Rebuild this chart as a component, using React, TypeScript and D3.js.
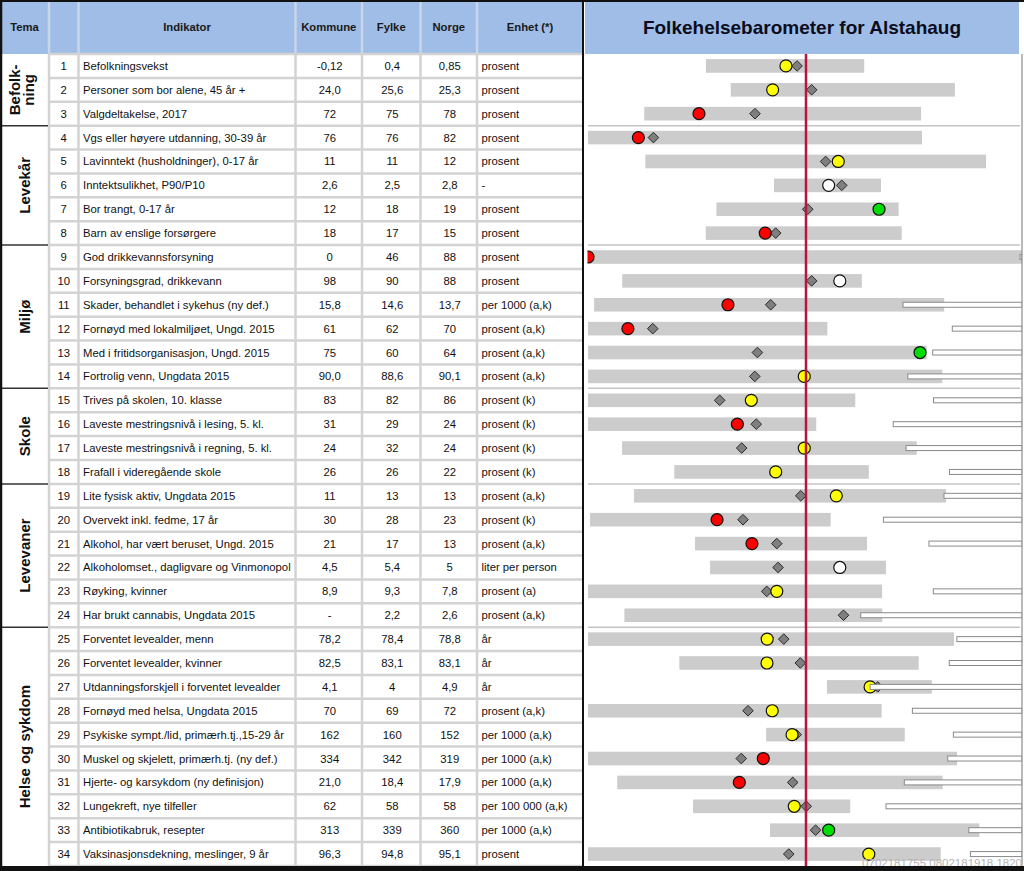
import React from 'react';
import * as d3 from 'd3';

const W = 1024;
const H = 871;
const FONT = "'Liberation Sans', Arial, sans-serif";

// ---------- table data ----------
const groupNames = [['Befolk-', 'ning'], ['Levekår'], ['Miljø'], ['Skole'], ['Levevaner'], ['Helse og sykdom']];
const groupSizes = [3, 5, 6, 4, 6, 10];

const indicators = [
  'Befolkningsvekst',
  'Personer som bor alene, 45 år +',
  'Valgdeltakelse, 2017',
  'Vgs eller høyere utdanning, 30-39 år',
  'Lavinntekt (husholdninger), 0-17 år',
  'Inntektsulikhet, P90/P10',
  'Bor trangt, 0-17 år',
  'Barn av enslige forsørgere',
  'God drikkevannsforsyning',
  'Forsyningsgrad, drikkevann',
  'Skader, behandlet i sykehus (ny def.)',
  'Fornøyd med lokalmiljøet, Ungd. 2015',
  'Med i fritidsorganisasjon, Ungd. 2015',
  'Fortrolig venn, Ungdata 2015',
  'Trives på skolen, 10. klasse',
  'Laveste mestringsnivå i lesing, 5. kl.',
  'Laveste mestringsnivå i regning, 5. kl.',
  'Frafall i videregående skole',
  'Lite fysisk aktiv, Ungdata 2015',
  'Overvekt inkl. fedme, 17 år',
  'Alkohol, har vært beruset, Ungd. 2015',
  'Alkoholomset., dagligvare og Vinmonopol',
  'Røyking, kvinner',
  'Har brukt cannabis, Ungdata 2015',
  'Forventet levealder, menn',
  'Forventet levealder, kvinner',
  'Utdanningsforskjell i forventet levealder',
  'Fornøyd med helsa, Ungdata 2015',
  'Psykiske sympt./lid, primærh.tj.,15-29 år',
  'Muskel og skjelett, primærh.tj. (ny def.)',
  'Hjerte- og karsykdom (ny definisjon)',
  'Lungekreft, nye tilfeller',
  'Antibiotikabruk, resepter',
  'Vaksinasjonsdekning, meslinger, 9 år',
];
const kommune = ['-0,12', '24,0', '72', '76', '11', '2,6', '12', '18', '0', '98', '15,8', '61', '75', '90,0', '83', '31', '24', '26', '11', '30', '21', '4,5', '8,9', '-', '78,2', '82,5', '4,1', '70', '162', '334', '21,0', '62', '313', '96,3'];
const fylke = ['0,4', '25,6', '75', '76', '11', '2,5', '18', '17', '46', '90', '14,6', '62', '60', '88,6', '82', '29', '32', '26', '13', '28', '17', '5,4', '9,3', '2,2', '78,4', '83,1', '4', '69', '160', '342', '18,4', '58', '339', '94,8'];
const norge = ['0,85', '25,3', '78', '82', '12', '2,8', '19', '15', '88', '88', '13,7', '70', '64', '90,1', '86', '24', '24', '22', '13', '23', '13', '5', '7,8', '2,6', '78,8', '83,1', '4,9', '72', '152', '319', '17,9', '58', '360', '95,1'];
const enhet = ['prosent', 'prosent', 'prosent', 'prosent', 'prosent', '-', 'prosent', 'prosent', 'prosent', 'prosent', 'per 1000 (a,k)', 'prosent (a,k)', 'prosent (a,k)', 'prosent (a,k)', 'prosent (k)', 'prosent (k)', 'prosent (k)', 'prosent (k)', 'prosent (a,k)', 'prosent (k)', 'prosent (a,k)', 'liter per person', 'prosent (a)', 'prosent (a,k)', 'år', 'år', 'år', 'prosent (a,k)', 'per 1000 (a,k)', 'per 1000 (a,k)', 'per 1000 (a,k)', 'per 100 000 (a,k)', 'per 1000 (a,k)', 'prosent'];

// ---------- barometer data (standardised units, Norge = 0) ----------
const circleColor = ['y', 'y', 'r', 'r', 'y', 'w', 'g', 'r', 'r', 'w', 'r', 'r', 'g', 'y', 'y', 'r', 'y', 'y', 'y', 'r', 'r', 'w', 'y', '', 'y', 'y', 'y', 'y', 'y', 'r', 'r', 'y', 'g', 'y'];
const barStart = [-45.9, -34.5, -74.2, -100, -73.7, -14.7, -41.1, -46.0, -100, -84.3, -97.2, -100, -100, -100, -100, -100, -84.4, -60.4, -78.9, -99.1, -50.9, -44.0, -100, -83.3, -100, -58.1, 9.6, -100, -18.3, -100, -86.6, -51.8, -16.5, -100];
const barEnd = [26.7, 68.3, 52.8, 53.2, 82.6, 34.4, 42.5, 43.9, 100, 25.6, 63.4, 9.8, 55.4, 62.5, 22.6, 4.7, 50.8, 28.8, 64.2, 11.3, 28.0, 36.7, 34.9, 35.0, 67.9, 51.7, 57.7, 34.7, 45.3, 69.3, 62.7, 20.3, 79.5, 61.8];
const kommunePos = [-9.2, -15.3, -49.1, -76.9, 14.8, 10.4, 33.5, -18.7, -100, 15.5, -35.8, -81.7, 52.3, -0.8, -25.1, -31.5, -0.8, -13.9, 13.9, -40.8, -24.8, 15.5, -13.4, null, -17.8, -17.9, 29.4, -15.5, -6.4, -19.6, -30.6, -5.4, 10.4, 28.8];
const fylkePos = [-4.1, 2.6, -23.4, -70.0, 9.0, 16.4, 0.8, -13.9, null, 2.6, -16.2, -70.3, -22.3, -23.5, -39.6, -22.8, -29.5, -13.9, -2.4, -28.9, -13.4, -12.8, -18.0, 17.2, -10.2, -2.6, 32.9, -26.6, -4.5, -29.7, -6.1, 0.1, 4.4, -7.9];
const targetStart = [null, null, null, null, null, null, null, null, 98.2, null, 44.5, 67.1, 58.1, 46.7, 58.5, 40.0, 45.9, 65.8, 63.3, 35.5, 56.4, null, 58.4, 25.1, 69.2, 65.7, 29.4, 48.8, 67.6, 65.0, 45.1, 36.7, 74.7, 75.4];

const headerLabels = ['Tema', '', 'Indikator', 'Kommune', 'Fylke', 'Norge', 'Enhet (*)'];
const title = 'Folkehelsebarometer for Alstahaug';
const stamp = '0702181755.0802181918.1820';

const colorMap: Record<string, string> = { y: '#ffff00', r: '#ff0000', g: '#00dd00', w: '#ffffff' };

export default function App() {
  const n = indicators.length;
  const headerBottom = 54;
  const bodyBottom = 866;
  const colEdges = [0, 49, 78.5, 295.5, 362, 420.5, 477, 583];
  const chartLeft = 585;
  const chartRight = 1022;

  const y = d3.scaleBand<number>().domain(d3.range(n)).range([headerBottom, bodyBottom]).paddingInner(0);
  const x = d3.scaleLinear().domain([-100, 100]).range([588, 1024]);
  const bw = y.bandwidth();
  const yc = (i: number) => (y(i) as number) + bw / 2;

  // group boundaries
  const groupStarts: number[] = [];
  let acc = 0;
  groupSizes.forEach((s) => { groupStarts.push(acc); acc += s; });

  const gridColor = '#d3d3d3';
  const fs = 11.3;

  const diamond = (cx: number, cy: number, r: number) => `M${cx},${cy - r}L${cx + r},${cy}L${cx},${cy + r}L${cx - r},${cy}Z`;

  return (
    <svg width={W} height={H} style={{ display: 'block', position: 'absolute', left: 0, top: 0 }} fontFamily={FONT}>
      <defs>
        <clipPath id="chartClip">
          <rect x={587.5} y={headerBottom} width={chartRight - 587.5} height={bodyBottom - headerBottom} />
        </clipPath>
      </defs>
      <rect x={0} y={0} width={W} height={H} fill="#ffffff" />

      {/* headers */}
      <rect x={0} y={2} width={colEdges[7]} height={headerBottom - 2} fill="#9fbde6" />
      <rect x={chartLeft} y={2} width={1019 - chartLeft} height={headerBottom - 2} fill="#9fbde6" />
      {colEdges.slice(1, 7).map((cx, i) => (
        <line key={'hv' + i} x1={cx} x2={cx} y1={2} y2={headerBottom} stroke="#c9d6ea" strokeWidth={2.5} />
      ))}
      {headerLabels.map((t, i) => (
        <text key={'h' + i} x={(colEdges[i] + colEdges[i + 1]) / 2} y={31} textAnchor="middle" fontWeight="bold" fontSize={11.3} fill="#1a1a1a">{t}</text>
      ))}
      <text x={(chartLeft + 1019) / 2} y={34} textAnchor="middle" fontWeight="bold" fontSize={19} fill="#0c0c20">{title}</text>

      {/* table grid */}
      {d3.range(n + 1).map((i) => {
        const yy = i === n ? bodyBottom : (y(i) as number);
        return <line key={'rh' + i} x1={colEdges[1]} x2={colEdges[7]} y1={yy} y2={yy} stroke={gridColor} strokeWidth={2.5} />;
      })}
      {colEdges.slice(1, 7).map((cx, i) => (
        <line key={'cv' + i} x1={cx} x2={cx} y1={headerBottom} y2={bodyBottom} stroke={gridColor} strokeWidth={2.5} />
      ))}
      {groupStarts.map((gs, gi) => (
        <line key={'gt' + gi} x1={0} x2={colEdges[1] - 1} y1={y(gs) as number} y2={y(gs) as number} stroke="#333333" strokeWidth={gi === 0 ? 0 : 1.5} />
      ))}

      {/* tema labels */}
      {groupNames.map((lines, gi) => {
        const gs = groupStarts[gi];
        const ge = gs + groupSizes[gi];
        const cy = ((y(gs) as number) + (ge === n ? bodyBottom : (y(ge) as number))) / 2;
        const cx = lines.length === 1 ? 24.5 : 21.5;
        return (
          <text key={'g' + gi} transform={`translate(${cx},${cy}) rotate(-90)`} textAnchor="middle" fontWeight="bold" fontSize={15} fill="#111">
            {lines.map((l, li) => (
              <tspan key={li} x={0} y={li * 14 + (lines.length === 1 ? 5.5 : -1.5)}>{l}</tspan>
            ))}
          </text>
        );
      })}

      {/* table text */}
      {indicators.map((ind, i) => (
        <g key={'r' + i} fontSize={fs} fill="#111">
          <text x={(colEdges[1] + colEdges[2]) / 2} y={yc(i) + 4} textAnchor="middle">{i + 1}</text>
          <text x={colEdges[2] + 4.5} y={yc(i) + 4}>{ind}</text>
          <text x={(colEdges[3] + colEdges[4]) / 2 + 1} y={yc(i) + 4} textAnchor="middle">{kommune[i]}</text>
          <text x={(colEdges[4] + colEdges[5]) / 2 + 1} y={yc(i) + 4} textAnchor="middle">{fylke[i]}</text>
          <text x={(colEdges[5] + colEdges[6]) / 2 + 1} y={yc(i) + 4} textAnchor="middle">{norge[i]}</text>
          <text x={colEdges[6] + 4.5} y={yc(i) + 4}>{enhet[i]}</text>
        </g>
      ))}

      {/* chart */}
      <g clipPath="url(#chartClip)">
        {barStart.map((s, i) => (
          <rect key={'b' + i} x={x(s)} y={yc(i) - 6.8} width={x(barEnd[i]) - x(s)} height={13.6} fill="#cccccc" />
        ))}
        {groupStarts.slice(1).map((gs, gi) => (
          <line key={'cs' + gi} x1={588} x2={1020} y1={y(gs) as number} y2={y(gs) as number} stroke="#c4c4c4" strokeWidth={1.5} />
        ))}
        {fylkePos.map((f, i) => (f === null ? null : (
          <path key={'d' + i} d={diamond(x(f), yc(i), 5.3)} fill="#7f7f7f" stroke="#2a2a2a" strokeWidth={1} />
        )))}
        {kommunePos.map((k, i) => (k === null || !circleColor[i] ? null : (
          <circle key={'c' + i} cx={x(k)} cy={yc(i)} r={6} fill={colorMap[circleColor[i]]} stroke="#111" strokeWidth={1.2} />
        )))}
        <line x1={x(0)} x2={x(0)} y1={headerBottom} y2={bodyBottom} stroke="#b3173f" strokeWidth={2.5} />
        {targetStart.map((t, i) => (t === null ? null : (
          <rect key={'t' + i} x={x(t)} y={yc(i) - 2.5} width={chartRight - x(t)} height={5} fill="#ffffff" stroke="#8a8a8a" strokeWidth={1} />
        )))}
      </g>

      {/* frame */}
      <line x1={chartRight} x2={chartRight} y1={headerBottom} y2={bodyBottom} stroke="#8c8c8c" strokeWidth={1.2} />
      <line x1={colEdges[7]} x2={colEdges[7]} y1={0} y2={H} stroke="#111" strokeWidth={2} />
      <line x1={1} x2={1} y1={0} y2={H} stroke="#111" strokeWidth={2.5} />
      <line x1={0} x2={W} y1={1} y2={1} stroke="#111" strokeWidth={2} />
      <text x={1022} y={866.5} textAnchor="end" fontSize={11.5} fill="#b5b5b5">{stamp}</text>
      <rect x={0} y={866} width={W} height={H - 866} fill="#111" />
    </svg>
  );
}
